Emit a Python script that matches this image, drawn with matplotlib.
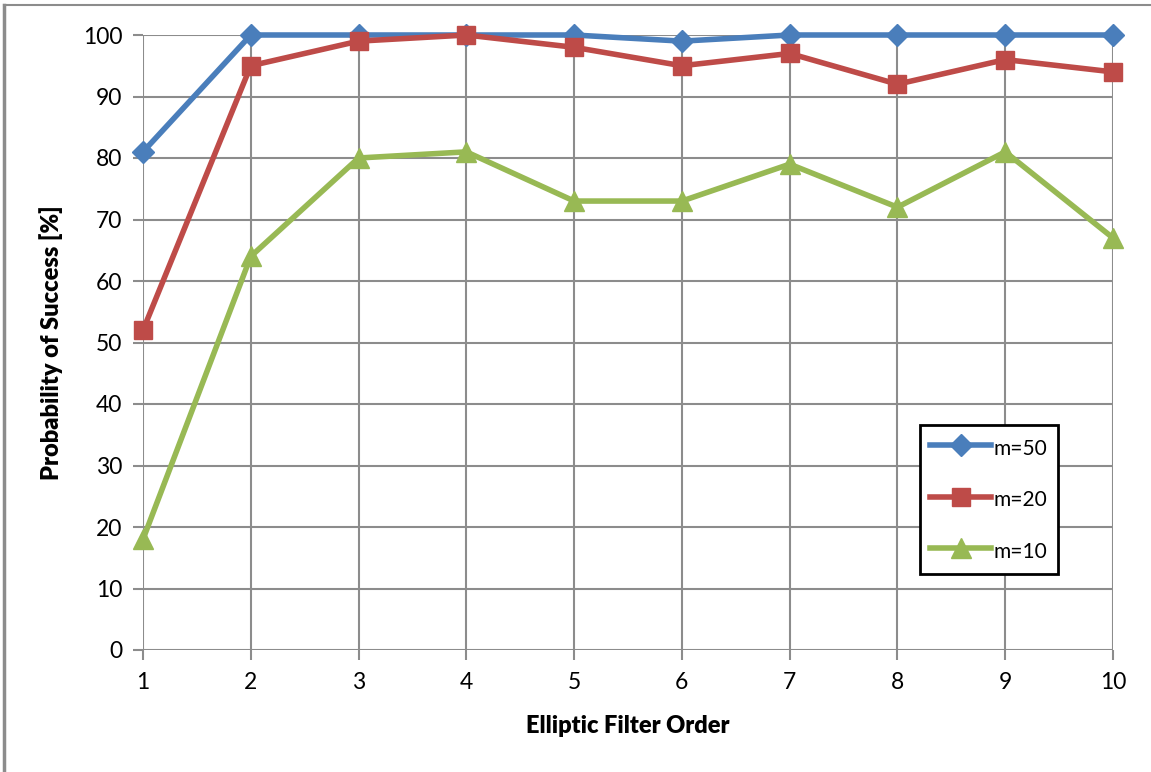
import numpy as np
import matplotlib
matplotlib.use("Agg")
import matplotlib.pyplot as plt
from matplotlib.lines import Line2D

plt.rcParams["font.family"] = ["Lato", "DejaVu Sans"]

order = [1, 2, 3, 4, 5, 6, 7, 8, 9, 10]
m50 = [81, 100, 100, 100, 100, 99, 100, 100, 100, 100]
m20 = [52, 95, 99, 100, 98, 95, 97, 92, 96, 94]
m10 = [18, 64, 80, 81, 73, 73, 79, 72, 81, 67]
labels = ["m=50", "m=20", "m=10"]

fig = plt.figure(figsize=(11.51, 7.72), dpi=100)
ax = fig.add_axes([143 / 1151, 1 - 650 / 772, (1113 - 143) / 1151, (650 - 35) / 772])

ax.plot(order, m50, color="#4A7EBB", lw=4, marker="D", ms=11, label=labels[0], zorder=3, clip_on=False)
ax.plot(order, m20, color="#BE4B48", lw=4, marker="s", ms=13, label=labels[1], zorder=3, clip_on=False)
ax.plot(order, m10, color="#98B954", lw=4, marker="^", ms=14, label=labels[2], zorder=3, clip_on=False)

ax.set_xlim(1, 10)
ax.set_ylim(0, 100)
ax.set_xticks(order)
ax.set_yticks(np.arange(0, 101, 10))
ax.grid(True, color="#8C8C8C", lw=1.5)
ax.set_axisbelow(True)
for s in ax.spines.values():
    s.set_visible(False)
ax.tick_params(axis="both", length=7, width=1.5, color="#8C8C8C", labelsize=16.5)
ax.tick_params(axis="x", pad=9)
ax.tick_params(axis="y", pad=8)

ax.set_xlabel("Elliptic Filter Order", fontsize=17, fontweight="heavy", labelpad=16)
ax.set_ylabel("Probability of Success [%]", fontsize=17, fontweight="heavy", labelpad=14)

leg = ax.legend(loc="upper left", bbox_to_anchor=((920 - 143) / 970, 1 - (425 - 35) / 615),
                fontsize=15, frameon=True, fancybox=False, framealpha=1, edgecolor="black",
                handlelength=2.9, handleheight=1.5, handletextpad=0.15, labelspacing=1.25,
                borderpad=0.5, borderaxespad=0)
leg.get_frame().set_linewidth(2)

fig.add_artist(Line2D([4 / 1151, 4 / 1151], [0, 1 - 5 / 772], color="#8C8C8C", lw=2.5))
fig.add_artist(Line2D([4 / 1151, 1], [1 - 5 / 772, 1 - 5 / 772], color="#8C8C8C", lw=1.5))

fig.savefig("out.png", dpi=100)
